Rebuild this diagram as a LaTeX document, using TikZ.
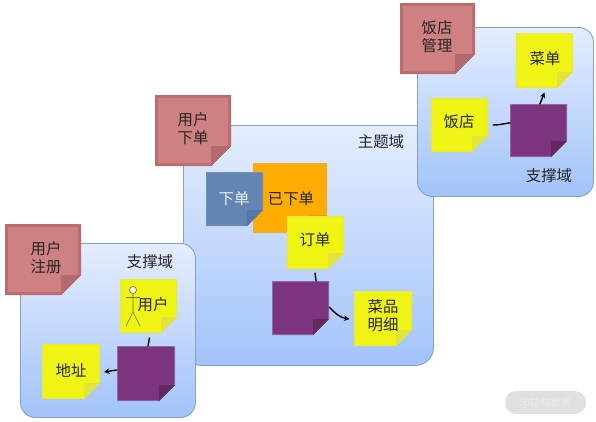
\documentclass[tikz,border=0pt]{standalone}
\usepackage{fontspec}
\newfontfamily\cjk{Noto Sans CJK SC}
\usetikzlibrary{arrows.meta}
\definecolor{redfill}{HTML}{CF8080}
\definecolor{rededge}{HTML}{BA6C6E}
\definecolor{redfold}{HTML}{B26A6C}
\definecolor{yelfill}{HTML}{F0F414}
\definecolor{yeledge}{HTML}{E6E84A}
\definecolor{yelfold}{HTML}{E2E43C}
\definecolor{purfill}{HTML}{7C347E}
\definecolor{puredge}{HTML}{8C6AA6}
\definecolor{purfold}{HTML}{63295F}
\definecolor{blufill}{HTML}{6285B3}
\definecolor{bluedge}{HTML}{6F8FBA}
\definecolor{blufold}{HTML}{5577A6}
\definecolor{orafill}{HTML}{FEAC00}
\definecolor{oraedge}{HTML}{F2AE22}
\definecolor{orafold}{HTML}{E89C00}
\definecolor{paneltop}{HTML}{E4EDFF}
\definecolor{panelbot}{HTML}{A2C3F9}
\definecolor{paneledge}{HTML}{7FA2CF}
\tikzset{
  x=1pt,y=-1pt,
  panelbox/.style={draw=paneledge,line width=0.9pt,top color=paneltop,bottom color=panelbot,
    rounded corners=#1,inner sep=0pt,anchor=north west},
  stickyanchor/.style={inner sep=0pt,outer sep=0pt},
  lab/.style={font=\cjk\fontsize{15.4}{18}\selectfont,align=center,inner sep=0pt,text=black!85},
  con/.style={line width=1.4pt,black,line cap=round},
  tip/.style={-{Stealth[length=5.5pt,width=5.5pt]}},
  figure/.style={draw=black!55!yelfill,line width=0.6pt},
}
% name x1 y1 x2 y2 foldsize fill edge fold
\newcommand{\sticky}[9]{%
  \pgfmathsetlengthmacro{\stw}{(#4-#2)*1pt}%
  \pgfmathsetlengthmacro{\sth}{(#5-#3)*1pt}%
  \fill[#8] (#2,#3) -- (#4,#3) -- (#4,#5-#6) -- (#4-#6,#5) -- (#2,#5) -- cycle;
  \fill[#7] (#2+\stickyinset,#3+\stickyinset) -- (#4-\stickyinset,#3+\stickyinset) -- (#4-\stickyinset,#5-#6-\stickyinset*0.4) -- (#4-#6-\stickyinset*0.4,#5-\stickyinset) -- (#2+\stickyinset,#5-\stickyinset) -- cycle;
  \fill[#9] (#4,#5-#6) -- (#4-#6,#5-#6) -- (#4-#6,#5) -- cycle;
  \node[stickyanchor,minimum width=\stw,minimum height=\sth] (#1) at ({(#2+#4)/2},{(#3+#5)/2}) {};
}
\newcommand{\stickyinset}{1}
\begin{document}
\begin{tikzpicture}
\useasboundingbox (0,0) rectangle (596,421);
\fill[white] (0,0) rectangle (596,421);
% panels
\node[panelbox=18pt,minimum width=250pt,minimum height=240pt] (pcenter) at (183,125) {};
\node[panelbox=15pt,minimum width=176pt,minimum height=169pt] (pright) at (417,27) {};
\node[panelbox=15pt,minimum width=175pt,minimum height=174pt] (pleft) at (20,243) {};
\node[lab] (tleft) at (150,262) {支撑域};
\node[lab] (tcenter) at (381,142) {主题域};
\node[lab] (tright) at (549,176) {支撑域};
% red stickies
\renewcommand{\stickyinset}{3}
\sticky{rleft}{5}{224}{81}{295}{20}{redfill}{rededge}{redfold}
\sticky{rcenter}{155}{95}{231}{166}{20}{redfill}{rededge}{redfold}
\sticky{rright}{400}{3}{475}{74}{20}{redfill}{rededge}{redfold}
\node[lab] (lrleft) at (46,258) {用户\\注册};
\node[lab] (lrcenter) at (193,129) {用户\\下单};
\node[lab] (lrright) at (437,37) {饭店\\管理};
% centre stickies
\renewcommand{\stickyinset}{2}
\sticky{order}{253}{163}{327}{233}{18}{orafill}{oraedge}{orafold}
\renewcommand{\stickyinset}{1}
\sticky{place}{206}{172}{263}{226}{16}{blufill}{bluedge}{blufold}
\node[lab] (lorder) at (291,199) {已下单};
\node[lab,text=white!88!blufill] (lplace) at (234,199) {下单};
\sticky{ding}{287}{216}{344}{269}{16}{yelfill}{yeledge}{yelfold}
\node[lab] (lding) at (315,240) {订单};
\sticky{pcen}{272}{281}{329}{335}{16}{purfill}{puredge}{purfold}
\sticky{caipin}{354}{291}{412}{346}{16}{yelfill}{yeledge}{yelfold}
\node[lab] (lcaipin) at (383,316) {菜品\\明细};
% left stickies
\sticky{user}{120}{279}{177}{333}{16}{yelfill}{yeledge}{yelfold}
\draw[figure] (133,293.5) -- (133,312) (126,297.5) -- (140,297.5) (126,326) -- (133,312) -- (140,326);
\node[circle,draw=black!55!yelfill,fill=white,line width=0.6pt,minimum size=7pt,inner sep=0pt] (head) at (133,290) {};
\node[lab] (luser) at (153,305) {用户};
\sticky{addr}{42}{344}{100}{399}{16}{yelfill}{yeledge}{yelfold}
\node[lab] (laddr) at (71,370) {地址};
\sticky{pleftn}{117}{346}{175}{401}{16}{purfill}{puredge}{purfold}
% right stickies
\sticky{menu}{516}{33}{573}{88}{16}{yelfill}{yeledge}{yelfold}
\node[lab] (lmenu) at (545,59) {菜单};
\sticky{shop}{431}{98}{488}{152}{16}{yelfill}{yeledge}{yelfold}
\node[lab] (lshop) at (459,122) {饭店};
\sticky{pright2}{510}{104}{567}{157}{16}{purfill}{puredge}{purfold}
% connector free ends
\coordinate (e1) at (149.5,338);
\coordinate (e2) at (104,372);
\coordinate (e3) at (315,273);
\coordinate (e4) at (349.5,319);
\coordinate (e5) at (493,125);
\coordinate (e6) at (544.5,92.5);
% connectors
\draw[con] (pleftn.86) to (e1);
\draw[con,tip] (pleftn.173) to (e2);
\draw[con] (pcen.60) to (e3);
\draw[con,tip] (pcen.2) to[out=-45,in=172] (e4);
\draw[con] (pright2.165) to[out=188,in=0] (e5);
\draw[con,tip] (pright2.87) to (e6);
% watermark
\node[fill=black!12,rounded corners=11pt,minimum width=81pt,minimum height=23pt,inner sep=0pt,
  text=white!92!black,font=\cjk\fontsize{10.5}{12}\selectfont] (wm) at (545.5,402.5) {@拉勾教育};
\end{tikzpicture}
\end{document}
